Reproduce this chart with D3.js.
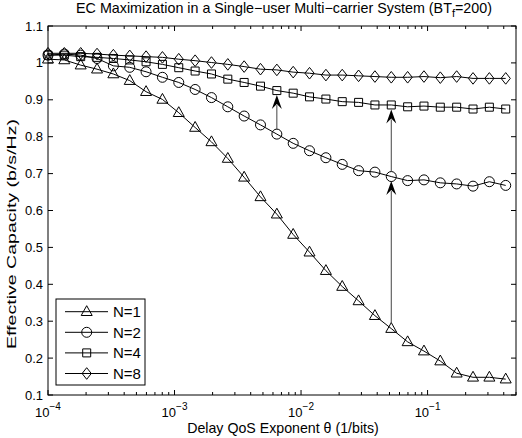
<html>
<head>
<meta charset="utf-8">
<script src="https://d3js.org/d3.v7.min.js"></script>
<style>
  body { margin: 0; background: #fff; }
  text { font-family: "Liberation Sans", Arial, sans-serif; fill: #000; }
</style>
</head>
<body>
<svg id="chart" width="522" height="438"></svg>
<script>
// delay QoS exponent values (x)
const theta = [1.000e-4, 1.346e-4, 1.813e-4, 2.441e-4, 3.286e-4, 4.426e-4, 5.959e-4, 8.024e-4,
               1.080e-3, 1.455e-3, 1.959e-3, 2.637e-3, 3.551e-3, 4.781e-3, 6.438e-3, 8.670e-3,
               1.167e-2, 1.572e-2, 2.116e-2, 2.850e-2, 3.837e-2, 5.166e-2, 6.958e-2, 9.367e-2,
               0.1261, 0.1698, 0.2287, 0.3079, 0.4146];
// effective capacity, one array per number of carriers
const ecN1 = [1.010, 1.008, 0.994, 0.983, 0.970, 0.952, 0.922, 0.901, 0.865, 0.825, 0.786, 0.741, 0.690, 0.637, 0.590,
              0.535, 0.487, 0.437, 0.394, 0.355, 0.315, 0.280, 0.244, 0.219, 0.192, 0.159, 0.148, 0.148, 0.143];
const ecN2 = [1.021, 1.024, 1.021, 1.012, 0.992, 0.988, 0.976, 0.961, 0.947, 0.928, 0.906, 0.881, 0.856, 0.832, 0.807,
              0.782, 0.762, 0.743, 0.725, 0.708, 0.704, 0.692, 0.681, 0.683, 0.675, 0.672, 0.666, 0.678, 0.668];
const ecN4 = [1.021, 1.021, 1.017, 1.015, 1.012, 1.008, 1.003, 0.996, 0.987, 0.978, 0.970, 0.956, 0.947, 0.937, 0.925,
              0.918, 0.908, 0.902, 0.895, 0.893, 0.886, 0.886, 0.881, 0.883, 0.880, 0.880, 0.875, 0.880, 0.875];
const ecN8 = [1.026, 1.026, 1.026, 1.024, 1.021, 1.019, 1.017, 1.015, 1.010, 1.006, 1.001, 0.996, 0.990, 0.983, 0.981,
              0.975, 0.972, 0.967, 0.967, 0.965, 0.963, 0.961, 0.961, 0.963, 0.960, 0.963, 0.958, 0.958, 0.958];
const seriesNames = ["N=1", "N=2", "N=4", "N=8"];
const markers = ["triangle", "circle", "square", "diamond"];

const yTicks = [0.1, 0.2, 0.3, 0.4, 0.5, 0.6, 0.7, 0.8, 0.9, 1, 1.1];
const yTickLabels = ["0.1", "0.2", "0.3", "0.4", "0.5", "0.6", "0.7", "0.8", "0.9", "1", "1.1"];
const xDecades = [-4, -3, -2, -1];

// arrows: theta index, from value, to value
const arrowAt = [14, 21, 21];
const arrowFrom = [0.807, 0.280, 0.692];
const arrowTo = [0.925, 0.692, 0.886];

const svg = d3.select("#chart");
const pLeft = 48, pRight = 516, pTop = 26, pBottom = 395;

const x = d3.scaleLog().domain([1e-4, 0.5]).range([pLeft, pRight]);
const y = d3.scaleLinear().domain([0.1, 1.1]).range([pBottom, pTop]);

const series = [ecN1, ecN2, ecN4, ecN8].map((vals, i) => ({
    name: seriesNames[i],
    marker: markers[i],
    points: vals.map((v, j) => ({ t: theta[j], v: v }))
}));

function markerPath(type) {
    if (type == "triangle") return "M0,-6L5.5,3.8L-5.5,3.8Z";
    if (type == "square") return "M-4,-4H4V4H-4Z";
    if (type == "diamond") return "M0,-5.8L4.6,0L0,5.8L-4.6,0Z";
    return d3.symbol().type(d3.symbolCircle).size(Math.PI * 5 * 5)();
}

// axes box ticks
const g = svg.append("g");
const minor = [];
for (let e = -4; e <= -1; e++) {
    for (let m = 2; m <= 9; m++) {
        const t = m * Math.pow(10, e);
        if (t <= 0.5) minor.push(t);
    }
}
g.selectAll("line.xminor").data(minor).join("line").attr("class", "xminor")
    .attr("x1", d => x(d)).attr("x2", d => x(d))
    .attr("y1", pBottom).attr("y2", pBottom - 3)
    .attr("stroke", "black");
g.selectAll("line.xminor2").data(minor).join("line").attr("class", "xminor2")
    .attr("x1", d => x(d)).attr("x2", d => x(d))
    .attr("y1", pTop).attr("y2", pTop + 3)
    .attr("stroke", "black");
g.selectAll("line.xmaj").data(xDecades).join("line").attr("class", "xmaj")
    .attr("x1", d => x(Math.pow(10, d))).attr("x2", d => x(Math.pow(10, d)))
    .attr("y1", pBottom).attr("y2", pBottom - 5)
    .attr("stroke", "black");
g.selectAll("line.xmaj2").data(xDecades).join("line").attr("class", "xmaj2")
    .attr("x1", d => x(Math.pow(10, d))).attr("x2", d => x(Math.pow(10, d)))
    .attr("y1", pTop).attr("y2", pTop + 5)
    .attr("stroke", "black");
g.selectAll("line.ymaj").data(yTicks).join("line").attr("class", "ymaj")
    .attr("x1", pLeft).attr("x2", pLeft + 5)
    .attr("y1", d => y(d)).attr("y2", d => y(d))
    .attr("stroke", "black");
g.selectAll("line.ymaj2").data(yTicks).join("line").attr("class", "ymaj2")
    .attr("x1", pRight).attr("x2", pRight - 5)
    .attr("y1", d => y(d)).attr("y2", d => y(d))
    .attr("stroke", "black");

// tick labels
g.selectAll("text.ylab").data(yTicks).join("text").attr("class", "ylab")
    .attr("x", pLeft - 5).attr("y", d => y(d) + 4.5)
    .attr("text-anchor", "end").attr("font-size", 13)
    .text((d, i) => yTickLabels[i]);
const xl = g.selectAll("text.xlab").data(xDecades).join("text").attr("class", "xlab")
    .attr("x", d => x(Math.pow(10, d))).attr("y", 417)
    .attr("text-anchor", "middle").attr("font-size", 13);
xl.append("tspan").text("10");
xl.append("tspan").attr("dy", -7).attr("font-size", 10).text(d => "\u2212" + Math.abs(d));

// lines and markers
const line = d3.line().x(d => x(d.t)).y(d => y(d.v));
const sg = svg.selectAll("g.series").data(series).join("g").attr("class", "series");
sg.append("path")
    .attr("d", d => line(d.points))
    .attr("fill", "none").attr("stroke", "black").attr("stroke-width", 1);
sg.selectAll("path.mk").data(d => d.points.map(p => ({ p: p, m: d.marker }))).join("path")
    .attr("class", "mk")
    .attr("d", d => markerPath(d.m))
    .attr("transform", d => `translate(${x(d.p.t)},${y(d.p.v)})`)
    .attr("fill", "none").attr("stroke", "black").attr("stroke-width", 1);

// arrows
const ag = svg.append("g");
arrowAt.forEach((k, i) => {
    const ax = x(theta[k]);
    const y0 = y(arrowFrom[i]) - 5;
    const y1 = y(arrowTo[i]) + 4.5;
    ag.append("line").attr("x1", ax).attr("x2", ax)
        .attr("y1", y0).attr("y2", y1 + 10)
        .attr("stroke", "#444").attr("stroke-width", 1);
    ag.append("path")
        .attr("d", `M${ax},${y1}L${ax + 5},${y1 + 14}L${ax},${y1 + 9}L${ax - 5},${y1 + 14}Z`)
        .attr("fill", "black");
});

// box
svg.append("rect").attr("x", pLeft).attr("y", pTop)
    .attr("width", pRight - pLeft).attr("height", pBottom - pTop)
    .attr("fill", "none").attr("stroke", "black").attr("stroke-width", 1);

// legend
const lg = svg.append("g");
lg.append("rect").attr("x", 56).attr("y", 299).attr("width", 89).attr("height", 86)
    .attr("fill", "white").attr("stroke", "black");
const le = lg.selectAll("g.le").data(series).join("g").attr("class", "le")
    .attr("transform", (d, i) => `translate(0,${311.7 + i * 20.6})`);
le.append("line").attr("x1", 65).attr("x2", 108).attr("y1", 0).attr("y2", 0).attr("stroke", "black");
le.append("path").attr("d", d => markerPath(d.marker))
    .attr("transform", "translate(86.7,0)")
    .attr("fill", "none").attr("stroke", "black");
le.append("text").attr("x", 113).attr("y", 5.5).attr("font-size", 15).text(d => d.name);

// titles
const title = svg.append("text").attr("x", 284).attr("y", 13)
    .attr("text-anchor", "middle").attr("font-size", 14.3);
title.append("tspan").text("EC Maximization in a Single\u2212user Multi\u2212carrier System (BT");
title.append("tspan").attr("dy", 4).attr("font-size", 11).text("f");
title.append("tspan").attr("dy", -4).text("=200)");

svg.append("text").attr("x", 283).attr("y", 433)
    .attr("text-anchor", "middle").attr("font-size", 14.2)
    .text("Delay QoS Exponent \u03b8 (1/bits)");
svg.append("text").attr("transform", "translate(16,234) rotate(-90)")
    .attr("text-anchor", "middle").attr("font-size", 13.5)
    .attr("textLength", 230).attr("lengthAdjust", "spacingAndGlyphs")
    .text("Effective Capacity (b/s/Hz)");
</script>
</body>
</html>
